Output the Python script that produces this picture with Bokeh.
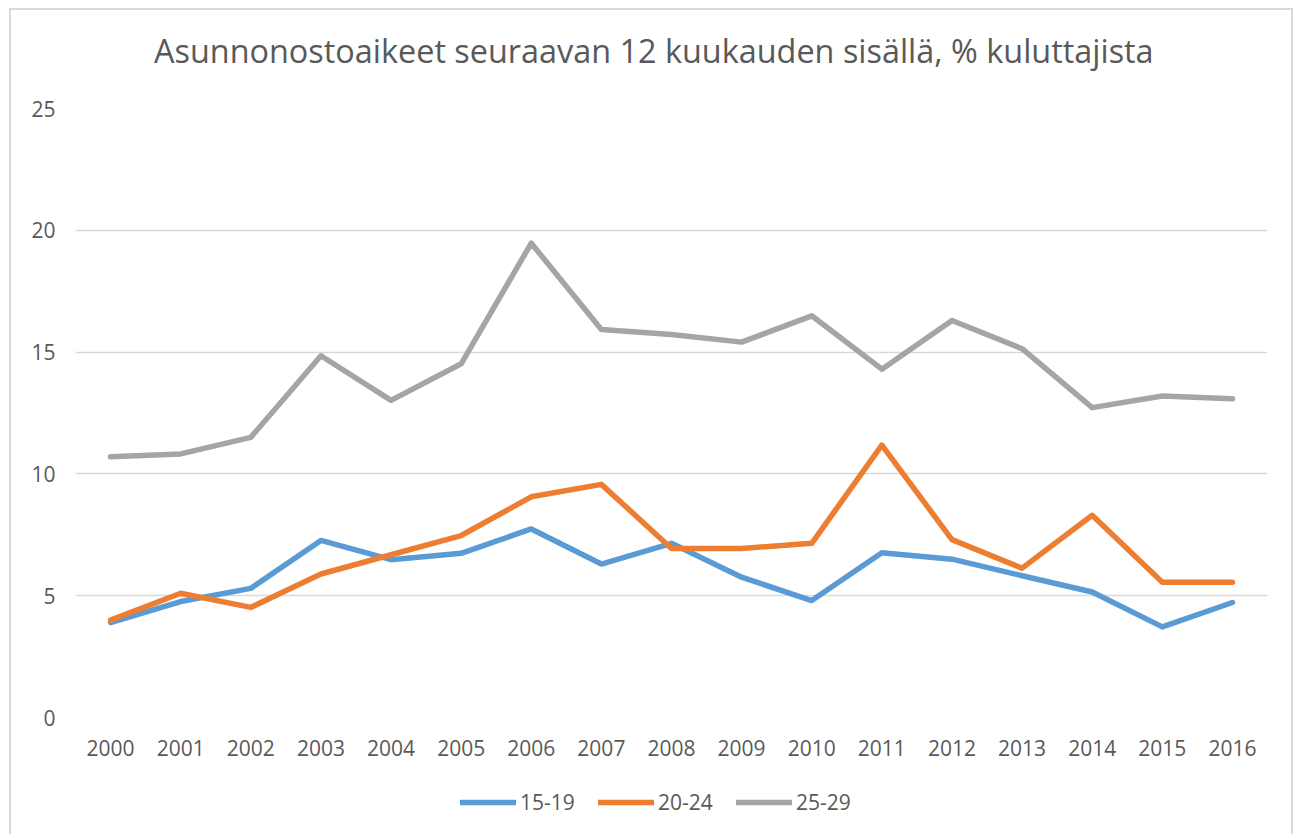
from bokeh.plotting import figure
from bokeh.layouts import column
from bokeh.models import Legend, LegendItem, FixedTicker, Label
from bokeh.embed import file_html
from bokeh.resources import INLINE

years = ["2000", "2001", "2002", "2003", "2004", "2005", "2006", "2007", "2008",
         "2009", "2010", "2011", "2012", "2013", "2014", "2015", "2016"]
v15_19 = [3.9, 4.76, 5.3, 7.27, 6.48, 6.74, 7.74, 6.3, 7.15, 5.76, 4.8, 6.76, 6.5, 5.82, 5.15, 3.72, 4.72]
v20_24 = [4.0, 5.1, 4.52, 5.89, 6.68, 7.47, 9.06, 9.57, 6.94, 6.94, 7.15, 11.18, 7.3, 6.13, 8.3, 5.55, 5.55]
v25_29 = [10.7, 10.82, 11.5, 14.85, 13.02, 14.52, 19.47, 15.93, 15.72, 15.41, 16.49, 14.3, 16.3, 15.14, 12.72, 13.2, 13.08]
series_names = ["15-19", "20-24", "25-29"]
series_colors = ["#5B9BD5", "#ED7D31", "#A5A5A5"]
y_ticks = [0, 5, 10, 15, 20, 25]
title_text = "Asunnonostoaikeet seuraavan 12 kuukauden sisällä, % kuluttajista"

FONT = "Open Sans"
TXT = "#595959"
W = 1280
TH = 78


def strip(height, xr, yr):
    f = figure(width=W, height=height, x_range=xr, y_range=yr,
               output_backend="svg", toolbar_location=None,
               x_axis_location=None, y_axis_location=None,
               min_border=0, min_border_left=0, min_border_right=0,
               min_border_top=0, min_border_bottom=0)
    f.outline_line_color = None
    f.grid.visible = False
    f.background_fill_color = "white"
    f.border_fill_color = "white"
    return f


# title strip
t = strip(TH, (0, W), (0, TH))
t.add_layout(Label(x=621, y=39, text=title_text, text_align="center", text_baseline="alphabetic",
                   text_font=FONT, text_font_size="32.4px", text_color=TXT))

# main chart
p = figure(width=W, height=692, x_range=years, y_range=(0, 25),
           output_backend="svg", toolbar_location=None,
           min_border_left=64, min_border_right=24, min_border_top=20, min_border_bottom=63)

for vals, col in zip([v15_19, v20_24, v25_29], series_colors):
    p.line(years, vals, line_color=col, line_width=5.5, line_cap="round", line_join="round")

p.outline_line_color = None
p.background_fill_color = "white"
p.border_fill_color = "white"

p.xgrid.grid_line_color = None
p.ygrid.grid_line_color = "#D9D9D9"
p.ygrid.grid_line_width = 1.3
p.yaxis.ticker = FixedTicker(ticks=y_ticks)

for ax in [p.xaxis[0], p.yaxis[0]]:
    ax.axis_line_color = None
    ax.major_tick_line_color = None
    ax.minor_tick_line_color = None
    ax.major_label_text_font = FONT
    ax.major_label_text_font_size = "21px"
    ax.major_label_text_color = TXT
p.yaxis.major_label_standoff = 14
p.xaxis.major_label_standoff = 16

# legend strip below the chart
q = strip(54, years, (100, 101))
legend_renderers = []
for vals, col in zip([v15_19, v20_24, v25_29], series_colors):
    legend_renderers.append(q.line(years, vals, line_color=col, line_width=5.5, line_cap="round"))

legend = Legend(items=[LegendItem(label=n, renderers=[r]) for n, r in zip(series_names, legend_renderers)],
                orientation="horizontal", location=(385, 18),
                glyph_width=56, glyph_height=20, label_standoff=4, spacing=22, label_width=56,
                label_text_font=FONT, label_text_font_size="21px", label_text_color=TXT,
                border_line_color=None, background_fill_alpha=0, padding=4, margin=0)
q.add_layout(legend)

layout = column(t, p, q, spacing=0)
layout.styles = {"border-top": "2px solid #D9D9D9", "border-left": "2px solid #D9D9D9",
                 "border-right": "2px solid #D9D9D9", "margin-left": "9px", "margin-top": "8px"}

open("out.html", "w").write(file_html(layout, INLINE))
